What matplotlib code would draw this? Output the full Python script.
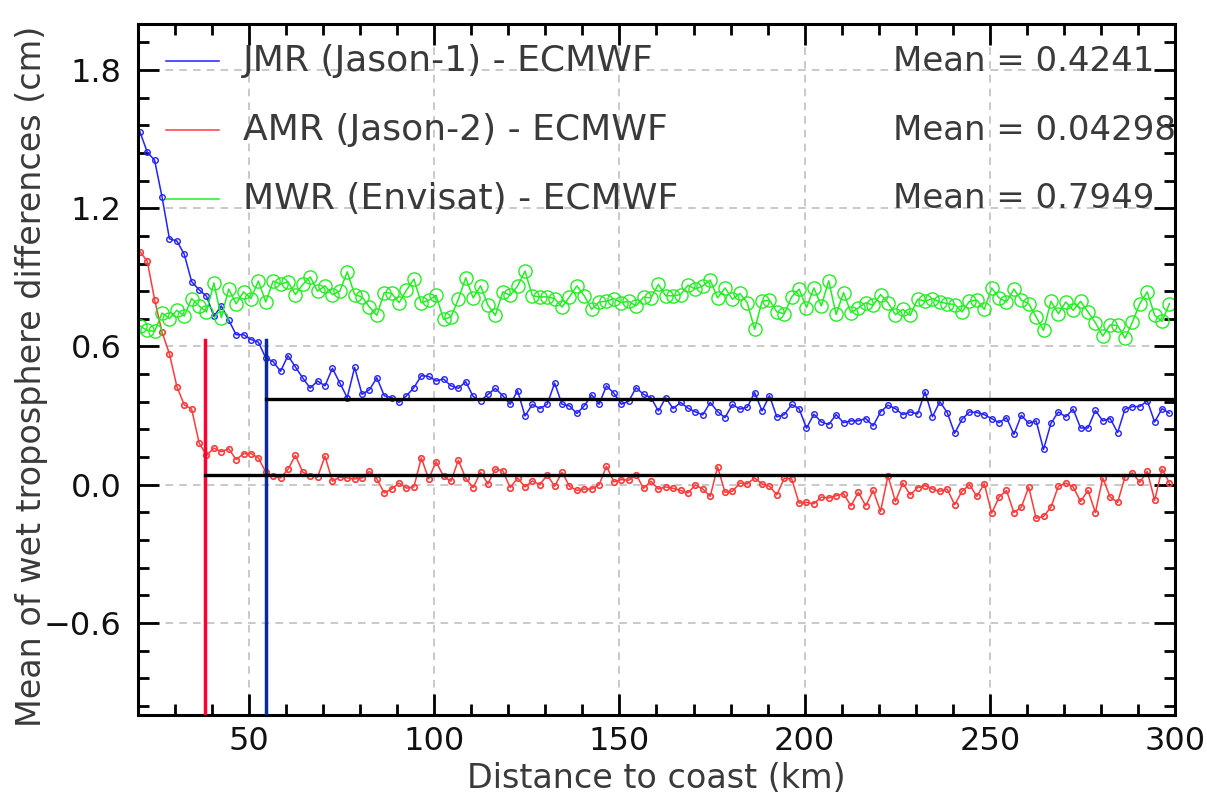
import numpy as np
import matplotlib
matplotlib.use("Agg")
import matplotlib.pyplot as plt
from matplotlib.ticker import MultipleLocator

# distance bins (km), 2 km apart
dist = np.arange(140) * 2 + 20.5

jmr = [1.533, 1.444, 1.408, 1.249, 1.067, 1.058, 1.000, 0.881, 0.846, 0.818,
       0.731, 0.776, 0.715, 0.651, 0.651, 0.630, 0.619, 0.550, 0.534, 0.492,
       0.560, 0.511, 0.463, 0.419, 0.450, 0.429, 0.505, 0.441, 0.378, 0.509,
       0.392, 0.412, 0.464, 0.386, 0.378, 0.357, 0.386, 0.421, 0.473, 0.470,
       0.450, 0.459, 0.429, 0.418, 0.447, 0.383, 0.364, 0.392, 0.418, 0.386,
       0.349, 0.408, 0.298, 0.349, 0.330, 0.349, 0.441, 0.349, 0.342, 0.309,
       0.342, 0.390, 0.349, 0.429, 0.397, 0.349, 0.362, 0.421, 0.392, 0.378,
       0.320, 0.377, 0.330, 0.357, 0.332, 0.316, 0.303, 0.357, 0.317, 0.291,
       0.348, 0.328, 0.336, 0.400, 0.320, 0.386, 0.294, 0.304, 0.348, 0.330,
       0.245, 0.306, 0.272, 0.261, 0.304, 0.269, 0.277, 0.277, 0.287, 0.255,
       0.316, 0.345, 0.330, 0.304, 0.316, 0.307, 0.403, 0.295, 0.360, 0.313,
       0.223, 0.284, 0.316, 0.313, 0.304, 0.287, 0.269, 0.291, 0.218, 0.301,
       0.266, 0.277, 0.153, 0.266, 0.316, 0.294, 0.328, 0.246, 0.246, 0.322,
       0.277, 0.287, 0.226, 0.328, 0.339, 0.339, 0.364, 0.272, 0.330, 0.310]

amr = [1.012, 0.971, 0.803, 0.662, 0.568, 0.426, 0.346, 0.328, 0.182, 0.127,
       0.159, 0.143, 0.156, 0.109, 0.134, 0.135, 0.116, 0.055, 0.036, 0.029,
       0.066, 0.127, 0.054, 0.039, 0.033, 0.124, 0.015, 0.033, 0.029, 0.025,
       0.029, 0.058, 0.025, -0.036, -0.019, 0.007, -0.015, -0.010, 0.116, 0.025,
       0.100, 0.036, 0.015, 0.106, 0.028, -0.013, 0.054, 0.004, 0.068, 0.060,
       -0.013, 0.029, -0.010, 0.016, 0.000, 0.042, -0.007, 0.054, -0.007, -0.025,
       -0.019, -0.019, -0.001, 0.080, 0.012, 0.022, 0.019, 0.044, -0.016, 0.015,
       -0.019, -0.010, -0.016, -0.025, -0.036, -0.001, -0.019, -0.051, 0.077, -0.033,
       -0.029, 0.007, 0.004, 0.029, 0.003, -0.007, -0.044, 0.028, 0.025, -0.080,
       -0.077, -0.083, -0.054, -0.058, -0.048, -0.039, -0.092, -0.033, -0.092, -0.025,
       -0.116, 0.039, -0.073, 0.007, -0.044, -0.013, -0.004, -0.019, -0.029, -0.019,
       -0.087, -0.029, 0.000, -0.051, 0.004, -0.124, -0.054, -0.025, -0.121, -0.098,
       -0.010, -0.146, -0.138, -0.098, -0.007, 0.007, -0.010, -0.073, -0.025, -0.121,
       0.029, -0.054, -0.077, 0.033, 0.051, 0.010, 0.058, -0.068, 0.068, 0.007]

mwr = [0.689, 0.670, 0.665, 0.745, 0.721, 0.757, 0.732, 0.808, 0.776, 0.750,
       0.876, 0.725, 0.849, 0.785, 0.837, 0.808, 0.884, 0.793, 0.884, 0.870,
       0.881, 0.825, 0.869, 0.902, 0.840, 0.863, 0.825, 0.840, 0.924, 0.825,
       0.815, 0.771, 0.735, 0.834, 0.831, 0.790, 0.844, 0.892, 0.789, 0.801,
       0.822, 0.718, 0.728, 0.805, 0.898, 0.811, 0.863, 0.779, 0.735, 0.837,
       0.822, 0.863, 0.927, 0.820, 0.815, 0.815, 0.808, 0.771, 0.815, 0.863,
       0.820, 0.761, 0.793, 0.796, 0.808, 0.790, 0.796, 0.776, 0.814, 0.811,
       0.869, 0.820, 0.820, 0.825, 0.866, 0.849, 0.863, 0.888, 0.811, 0.854,
       0.805, 0.830, 0.790, 0.674, 0.796, 0.801, 0.750, 0.742, 0.815, 0.849,
       0.769, 0.854, 0.776, 0.885, 0.739, 0.834, 0.747, 0.767, 0.790, 0.779,
       0.825, 0.790, 0.738, 0.761, 0.735, 0.805, 0.796, 0.808, 0.793, 0.786,
       0.782, 0.750, 0.796, 0.801, 0.761, 0.854, 0.811, 0.793, 0.849, 0.801,
       0.786, 0.728, 0.670, 0.796, 0.742, 0.793, 0.757, 0.796, 0.750, 0.703,
       0.645, 0.694, 0.691, 0.636, 0.706, 0.786, 0.837, 0.735, 0.709, 0.786]

names = ["JMR (Jason-1) - ECMWF", "AMR (Jason-2) - ECMWF", "MWR (Envisat) - ECMWF"]
means = ["0.4241", "0.04298", "0.7949"]
colors = ["#2222ff", "#ff3b3b", "#22ee22"]

# distance where each radiometer reaches open-ocean level
cut_amr, cut_jmr = 38.0, 54.5
level_amr, level_jmr = 0.04298, 0.37
cut_top = 0.63

fig = plt.figure(figsize=(12.07, 7.98), dpi=100)
ax = fig.add_axes([0.1143, 0.104, 0.8592, 0.866])

ax.plot(dist, jmr, color=colors[0], lw=1.1, marker="o", ms=4, mfc="none", mew=1)
ax.plot(dist, amr, color=colors[1], lw=1.1, marker="o", ms=4, mfc="none", mew=1.2)
ax.plot(dist, mwr, color=colors[2], lw=1.1, marker="o", ms=9.5, mfc="none", mew=1)

ax.plot([cut_amr, cut_amr], [-1.0, cut_top], color="#ff0033", lw=2.5, zorder=4)
ax.plot([cut_jmr, cut_jmr], [-1.0, cut_top], color="#0a2a9a", lw=2.5, zorder=4)
ax.plot([cut_amr, 300], [level_amr, level_amr], color="black", lw=2.4, zorder=4)
ax.plot([cut_jmr, 300], [level_jmr, level_jmr], color="black", lw=2.4, zorder=4)

ax.set_xlim(20, 300)
ax.set_ylim(-1.0, 2.0)
ax.xaxis.set_major_locator(MultipleLocator(50))
ax.xaxis.set_minor_locator(MultipleLocator(10))
ax.yaxis.set_minor_locator(MultipleLocator(0.12))
ax.set_yticks([-0.6, 0.0, 0.6, 1.2, 1.8])
ax.set_yticklabels(["\u22120.6", "0.0", "0.6", "1.2", "1.8"])
ax.grid(True, which="major", color="#bbbbbb", ls=(0, (5, 4)), lw=1.1)
ax.tick_params(which="both", direction="in", top=True, right=True,
               width=2, labelsize=23, labelcolor="#111111")
ax.tick_params(axis="y", pad=12)
ax.tick_params(axis="x", pad=8)
ax.tick_params(which="major", length=15)
ax.tick_params(which="minor", length=8)
for s in ax.spines.values():
    s.set_linewidth(2.2)

ax.set_xlabel("Distance to coast (km)", fontsize=24, color="#3a3a3a")
ax.xaxis.set_label_coords(0.5, -0.068)
ax.set_ylabel("Mean of wet troposphere differences (cm)", fontsize=24,
              color="#3a3a3a", va="center")
ax.yaxis.set_label_coords(-0.103, 0.49)

# legend drawn by hand: short line, name and mean
for i in range(3):
    y = 0.946 - i * 0.0995
    ax.plot([0.027, 0.078], [y, y], transform=ax.transAxes, color=colors[i], lw=1.1)
    ax.text(0.101, y, names[i], transform=ax.transAxes, fontsize=26,
            color="#3a3a3a", va="center")
    ax.text(0.728, y, "Mean = " + means[i], transform=ax.transAxes,
            fontsize=24.5, color="#3a3a3a", va="center")

fig.savefig("out.png", dpi=100)
